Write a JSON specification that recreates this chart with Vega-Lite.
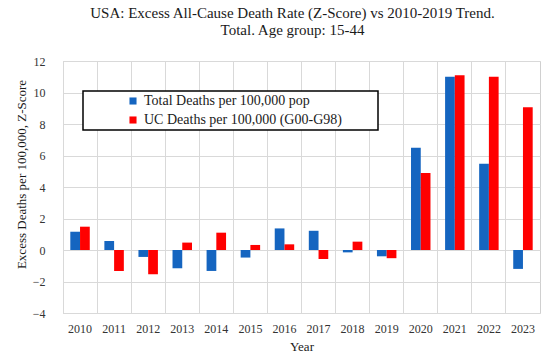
{
  "$schema": "https://vega.github.io/schema/vega-lite/v6.json",
  "width": 560,
  "height": 361,
  "autosize": {"type": "fit", "contains": "padding"},
  "padding": {"left": 15, "top": 6, "right": 20, "bottom": 8},
  "background": "white",
  "title": {
    "text": ["USA: Excess  All-Cause Death Rate (Z-Score) vs 2010-2019 Trend.", "Total. Age group: 15-44"],
    "font": "Liberation Serif",
    "fontSize": 15,
    "fontWeight": "normal",
    "color": "#1a1a1a",
    "lineHeight": 17,
    "offset": 17,
    "anchor": "middle",
    "dx": -9
  },
  "data": {
    "values": [
      {"year": "2010", "series": "Total Deaths per 100,000 pop", "value": 1.16},
      {"year": "2010", "series": "UC Deaths per 100,000 (G00-G98)", "value": 1.48},
      {"year": "2011", "series": "Total Deaths per 100,000 pop", "value": 0.57},
      {"year": "2011", "series": "UC Deaths per 100,000 (G00-G98)", "value": -1.33},
      {"year": "2012", "series": "Total Deaths per 100,000 pop", "value": -0.44},
      {"year": "2012", "series": "UC Deaths per 100,000 (G00-G98)", "value": -1.54},
      {"year": "2013", "series": "Total Deaths per 100,000 pop", "value": -1.16},
      {"year": "2013", "series": "UC Deaths per 100,000 (G00-G98)", "value": 0.47},
      {"year": "2014", "series": "Total Deaths per 100,000 pop", "value": -1.33},
      {"year": "2014", "series": "UC Deaths per 100,000 (G00-G98)", "value": 1.1},
      {"year": "2015", "series": "Total Deaths per 100,000 pop", "value": -0.48},
      {"year": "2015", "series": "UC Deaths per 100,000 (G00-G98)", "value": 0.32},
      {"year": "2016", "series": "Total Deaths per 100,000 pop", "value": 1.37},
      {"year": "2016", "series": "UC Deaths per 100,000 (G00-G98)", "value": 0.36},
      {"year": "2017", "series": "Total Deaths per 100,000 pop", "value": 1.22},
      {"year": "2017", "series": "UC Deaths per 100,000 (G00-G98)", "value": -0.57},
      {"year": "2018", "series": "Total Deaths per 100,000 pop", "value": -0.15},
      {"year": "2018", "series": "UC Deaths per 100,000 (G00-G98)", "value": 0.53},
      {"year": "2019", "series": "Total Deaths per 100,000 pop", "value": -0.4},
      {"year": "2019", "series": "UC Deaths per 100,000 (G00-G98)", "value": -0.52},
      {"year": "2020", "series": "Total Deaths per 100,000 pop", "value": 6.49},
      {"year": "2020", "series": "UC Deaths per 100,000 (G00-G98)", "value": 4.89},
      {"year": "2021", "series": "Total Deaths per 100,000 pop", "value": 11.0},
      {"year": "2021", "series": "UC Deaths per 100,000 (G00-G98)", "value": 11.1},
      {"year": "2022", "series": "Total Deaths per 100,000 pop", "value": 5.48},
      {"year": "2022", "series": "UC Deaths per 100,000 (G00-G98)", "value": 11.0},
      {"year": "2023", "series": "Total Deaths per 100,000 pop", "value": -1.2},
      {"year": "2023", "series": "UC Deaths per 100,000 (G00-G98)", "value": 9.07}
    ]
  },
  "mark": {"type": "bar"},
  "encoding": {
    "x": {
      "field": "year",
      "type": "nominal",
      "scale": {"paddingInner": 0, "paddingOuter": 0},
      "axis": {
        "title": "Year",
        "titleFont": "Liberation Serif",
        "titleFontSize": 13,
        "titleFontWeight": "normal",
        "titleColor": "#1a1a1a",
        "titlePadding": 6,
        "labelAngle": 0,
        "labelFont": "Liberation Serif",
        "labelFontSize": 12,
        "labelColor": "#333333",
        "labelPadding": 10,
        "ticks": false,
        "domain": false,
        "grid": true,
        "bandPosition": 0,
        "gridColor": "#d9d9d9"
      }
    },
    "xOffset": {
      "field": "series",
      "type": "nominal",
      "sort": ["Total Deaths per 100,000 pop", "UC Deaths per 100,000 (G00-G98)"],
      "scale": {"paddingInner": 0, "paddingOuter": 0.75}
    },
    "y": {
      "field": "value",
      "type": "quantitative",
      "scale": {"domain": [-4, 12], "nice": false},
      "axis": {
        "title": "Excess Deaths per 100,000, Z-Score",
        "titleFont": "Liberation Serif",
        "titleFontSize": 13,
        "titleFontWeight": "normal",
        "titleColor": "#1a1a1a",
        "titlePadding": 4,
        "titleY": 113,
        "values": [-4, -2, 0, 2, 4, 6, 8, 10, 12],
        "labelFont": "Liberation Serif",
        "labelFontSize": 12,
        "labelColor": "#333333",
        "labelPadding": 18,
        "ticks": false,
        "domain": false,
        "gridColor": "#d9d9d9"
      }
    },
    "color": {
      "field": "series",
      "type": "nominal",
      "scale": {
        "domain": ["Total Deaths per 100,000 pop", "UC Deaths per 100,000 (G00-G98)"],
        "range": ["#1565c0", "#ff0000"]
      },
      "legend": {
        "title": "\u00a0",
        "titleOrient": "right",
        "titlePadding": 33,
        "orient": "none",
        "legendX": 20,
        "legendY": 30,
        "direction": "vertical",
        "strokeColor": "#000000",
        "fillColor": "white",
        "padding": 3,
        "symbolType": "square",
        "symbolSize": 50,
        "symbolOffset": 40,
        "symbolStrokeWidth": 0,
        "labelFont": "Liberation Serif",
        "labelFontSize": 14,
        "labelColor": "#1a1a1a",
        "labelOffset": 4,
        "rowPadding": 5,
        "labelLimit": 400
      }
    }
  },
  "config": {
    "view": {"stroke": "#d0d0d0"},
    "legend": {"strokeWidth": 1.5}
  }
}
